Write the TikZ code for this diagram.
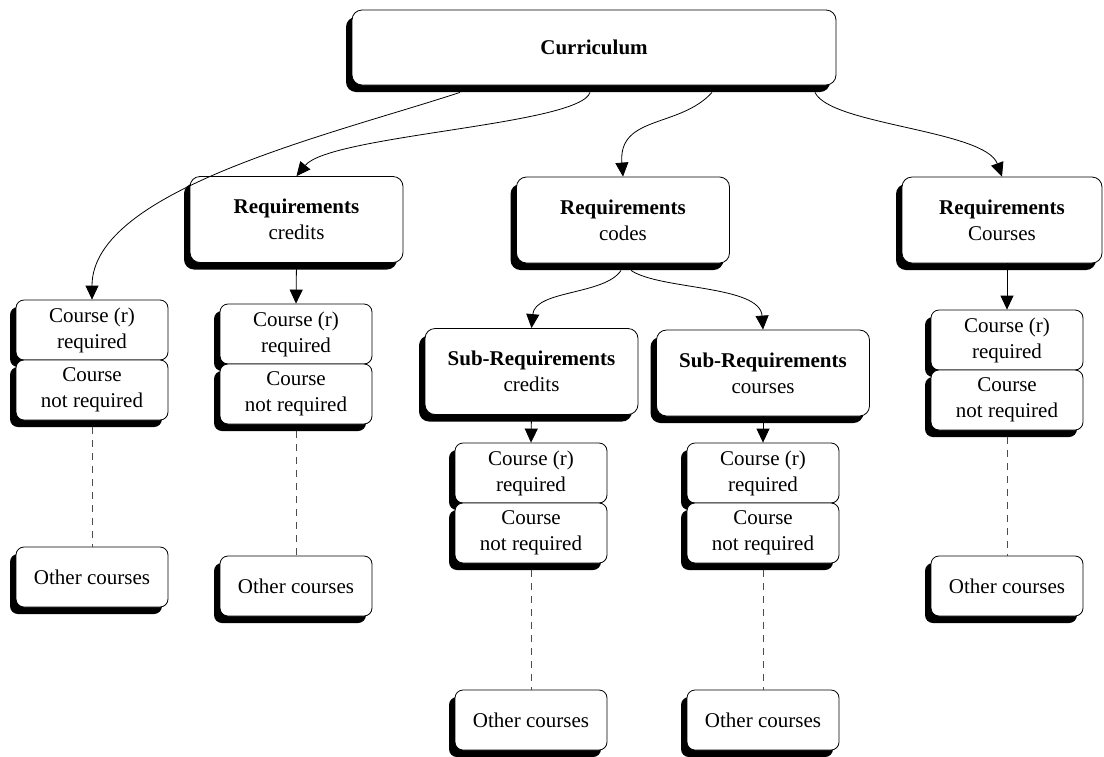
\documentclass[tikz,border=0pt]{standalone}
\usepackage{fontspec}
\setmainfont{Liberation Serif}
\usepackage{tikz}
\usetikzlibrary{arrows.meta,shadows}

\begin{document}
\begin{tikzpicture}[x=0.5pt, y=-0.5pt,
    font=\fontsize{10.5}{13}\selectfont,
    box/.style={draw, fill=white, rounded corners=5pt, align=center, inner sep=0pt,
      drop shadow={shadow xshift=-3pt, shadow yshift=-3.5pt, fill=black, opacity=1}},
    topbox/.style={box, minimum width=242pt, minimum height=37.5pt},
    reqbox/.style={box, minimum width=106.5pt, minimum height=43pt},
    coursebox/.style={box, rounded corners=4pt, minimum width=76pt, minimum height=30pt},
    arr/.style={-{Triangle[width=6.5pt,length=7pt]}},
    dots/.style={dash pattern=on 3.5pt off 3pt, black!70}]
      \useasboundingbox (0,0) rectangle (1104,756);

      % Curriculum
      \node[topbox] (cur) at (594,47.5) {\textbf{Curriculum}};

      % Requirements
      \node[reqbox] (reqB) at (296.5,219.5) {\textbf{Requirements}\\credits};
      \node[reqbox] (reqC) at (623,220) {\textbf{Requirements}\\codes};
      \node[reqbox, minimum width=100pt] (reqE) at (1002,220) {\textbf{Requirements}\\Courses};

      % Sub-Requirements
      \node[reqbox] (subC) at (531.5,371.5) {\textbf{Sub-Requirements}\\credits};
      \node[reqbox] (subD) at (763,373) {\textbf{Sub-Requirements}\\courses};

      % course stacks
      \node[coursebox] (reqA) at (92,330) {Course (r)\\required};
      \node[coursebox] (optA) at (92,390) {Course\\not required};
      \node[coursebox] (othA) at (92,577) {Other courses};

      \node[coursebox] (reqcB) at (296,334) {Course (r)\\required};
      \node[coursebox] (optB) at (296,394) {Course\\not required};
      \node[coursebox] (othB) at (296,586) {Other courses};

      \node[coursebox] (reqcC) at (531,473) {Course (r)\\required};
      \node[coursebox] (optC) at (531,533) {Course\\not required};
      \node[coursebox] (othC) at (531,720) {Other courses};

      \node[coursebox] (reqcD) at (763,473) {Course (r)\\required};
      \node[coursebox] (optD) at (763,533) {Course\\not required};
      \node[coursebox] (othD) at (763,720) {Other courses};

      \node[coursebox] (reqcE) at (1007,340) {Course (r)\\required};
      \node[coursebox] (optE) at (1007,400) {Course\\not required};
      \node[coursebox] (othE) at (1007,586) {Other courses};

      % curves out of Curriculum
      \draw[arr] ([xshift=-67pt,yshift=-3.5pt]cur.south) .. controls (330,135) and (92,190) .. (reqA.north);
      \draw[arr] ([xshift=-2pt,yshift=-3.5pt]cur.south) .. controls (580,125) and (330,135) .. (reqB.north);
      \draw[arr] ([xshift=59pt,yshift=-3.5pt]cur.south) .. controls (680,128) and (618,115) .. (reqC.north);
      \draw[arr] ([xshift=110.5pt,yshift=-3.5pt]cur.south) .. controls (830,125) and (985,130) .. (reqE.north);

      % curves out of codes
      \draw[arr] ([xshift=-1pt,yshift=-3.5pt]reqC.south) .. controls (605,295) and (535,290) .. (subC.north);
      \draw[arr] ([xshift=4pt,yshift=-3.5pt]reqC.south) .. controls (660,290) and (760,285) .. (subD.north);

      % straight arrows
      \draw[arr] (reqB.south) -- (reqcB.north);
      \draw[arr] (reqE.south -| reqcE.north) -- (reqcE.north);
      \draw[arr] (subC.south) -- (reqcC.north);
      \draw[arr] (subD.south) -- (reqcD.north);

      % dashed links
      \draw[dots] ([yshift=-3.5pt]optA.south) -- (othA.north);
      \draw[dots] ([yshift=-3.5pt]optB.south) -- (othB.north);
      \draw[dots] ([yshift=-3.5pt]optC.south) -- (othC.north);
      \draw[dots] ([yshift=-3.5pt]optD.south) -- (othD.north);
      \draw[dots] ([yshift=-3.5pt]optE.south) -- (othE.north);
    \end{tikzpicture}
\end{document}
